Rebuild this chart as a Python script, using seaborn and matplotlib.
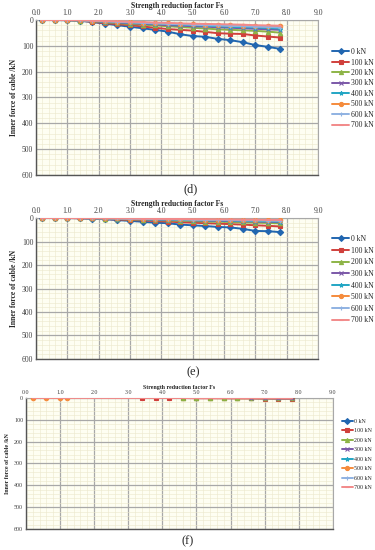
import numpy as np
import pandas as pd
import matplotlib
matplotlib.use("Agg")
import matplotlib.pyplot as plt
from matplotlib.lines import Line2D
from matplotlib.ticker import MultipleLocator
import seaborn as sns

sns.set_theme(style="white")
plt.rcParams['font.family'] = ['Liberation Serif', 'DejaVu Serif']

# -----------------------------
# Data
# -----------------------------
labels = ["0 kN", "100 kN", "200 kN", "300 kN", "400 kN", "500 kN", "600 kN", "700 kN"]
colors = ["#2166B0", "#D0403C", "#8DB446", "#7B58A8", "#22A6C4", "#F58B3C", "#8FB2E2", "#F28A8A"]
markers = ["D", "s", "^", "x", "*", "o", "+", "_"]

fs = [0.2, 0.6, 1.0, 1.4, 1.8, 2.2, 2.6, 3.0, 3.4, 3.8,
      4.2, 4.6, 5.0, 5.4, 5.8, 6.2, 6.6, 7.0, 7.4, 7.8]

# panel (d)
d_0kN = [0, 0, 1, 3, 8, 14, 20, 26, 32, 38, 45, 55, 62, 65, 73, 78, 86, 97, 104, 112]
d_100kN = [0, 0, 0, 2, 7, 12, 16, 20, 25, 30, 35, 38, 41, 46, 51, 53, 54, 60, 64, 68]
d_200kN = [0, 0, 0, 2, 5, 9, 12, 15, 18, 21, 24, 27, 30, 33, 36, 38, 40, 42, 45, 49]
d_300kN = [0, 0, 0, 1, 4, 7, 10, 12, 15, 17, 20, 22, 24, 26, 28, 30, 32, 34, 36, 38]
d_400kN = [0, 0, 0, 1, 3, 6, 8, 10, 12, 14, 16, 18, 20, 22, 24, 26, 28, 29, 31, 33]
d_500kN = [0, 0, 0, 1, 2, 4, 6, 8, 10, 12, 13, 15, 16, 18, 19, 21, 22, 23, 24, 25]
d_600kN = [0, 0, 0, 1, 3, 5, 7, 9, 11, 13, 15, 16, 18, 20, 21, 23, 24, 26, 27, 29]
d_700kN = [0, 0, 0, 0, 2, 4, 5, 7, 8, 10, 11, 13, 14, 15, 16, 17, 18, 20, 21, 22]

# panel (e)
e_0kN = [0, 0, 0, 1, 3, 5, 9, 12, 16, 20, 22, 28, 31, 34, 38, 40, 46, 55, 56, 60]
e_100kN = [0, 0, 0, 1, 2, 4, 6, 8, 10, 13, 15, 18, 20, 22, 24, 26, 28, 31, 33, 36]
e_200kN = [0, 0, 0, 0, 1, 3, 4, 6, 7, 9, 10, 12, 13, 15, 16, 17, 19, 20, 21, 23]
e_300kN = [0, 0, 0, 0, 1, 2, 3, 4, 6, 7, 8, 9, 10, 11, 12, 13, 14, 15, 16, 18]
e_400kN = [0, 0, 0, 0, 1, 2, 3, 4, 5, 6, 7, 8, 9, 10, 10, 11, 12, 13, 14, 15]
e_500kN = [0, 0, 0, 0, 0, 1, 2, 3, 3, 4, 5, 5, 6, 7, 7, 8, 8, 9, 9, 10]
e_600kN = [0, 0, 0, 0, 1, 1, 2, 3, 4, 5, 5, 6, 7, 8, 8, 9, 10, 10, 11, 12]
e_700kN = [0, 0, 0, 0, 0, 1, 1, 2, 3, 3, 4, 4, 5, 5, 6, 6, 7, 7, 8, 8]

# panel (f) - only some series have points
f_fs_100 = [3.4, 3.8, 4.2, 4.6, 5.0, 5.4, 5.8, 6.2, 6.6, 7.0, 7.4, 7.8]
f_100kN = [0, 0, 0, 0, 1, 1, 1, 2, 2, 3, 3, 4]
f_fs_200 = [4.6, 5.0, 5.4, 5.8, 6.2, 6.6, 7.0, 7.4, 7.8]
f_200kN = [0, 0, 0, 1, 1, 1, 2, 2, 2]
f_fs_300 = [6.6, 7.0, 7.4, 7.8]
f_300kN = [1, 1, 2, 2]
f_fs_500 = [0.2, 0.6, 1.0, 1.2]
f_500kN = [0, 0, 0, 0]
f_fs_700 = fs
f_700kN = [0, 0, 0, 0, 0, 0, 0, 0, 0, 0, 0, 0, 1, 1, 1, 1, 1, 1, 1, 2]

panel_d = [d_0kN, d_100kN, d_200kN, d_300kN, d_400kN, d_500kN, d_600kN, d_700kN]
panel_e = [e_0kN, e_100kN, e_200kN, e_300kN, e_400kN, e_500kN, e_600kN, e_700kN]
panel_f = {1: (f_fs_100, f_100kN), 2: (f_fs_200, f_200kN), 3: (f_fs_300, f_300kN),
           5: (f_fs_500, f_500kN), 7: (f_fs_700, f_700kN)}

# -----------------------------
# Figure
# -----------------------------
fig = plt.figure(figsize=(3.75, 5.5), dpi=100)

axes_rects = [
    [0.096, 0.682, 0.752, 0.2816],
    [0.096, 0.3473, 0.752, 0.2563],
    [0.069, 0.0382, 0.819, 0.2382],
]
# (x, y, labelspacing, handlelength)
legend_anchor = [(0.878, 0.918, 0.32, 2.2), (0.878, 0.578, 0.47, 2.2), (0.905, 0.243, 0.72, 1.9)]
fsz = [5.5, 5.5, 4.3]
tags = [("(d)", 0.507, 0.655), ("(e)", 0.515, 0.323), ("(f)", 0.5, 0.016)]


def style_axes(ax, size):
    ax.set_facecolor("#FEFEF2")
    ax.set_xlim(0, 9)
    ax.set_ylim(600, 0)
    ax.xaxis.set_major_locator(MultipleLocator(1))
    ax.xaxis.set_minor_locator(MultipleLocator(0.2))
    ax.yaxis.set_major_locator(MultipleLocator(100))
    ax.yaxis.set_minor_locator(MultipleLocator(20))
    ax.grid(which="minor", color="#ECE8CC", lw=0.4)
    ax.grid(which="major", color="#A8A8A8", lw=0.9)
    ax.set_axisbelow(True)
    ax.xaxis.tick_top()
    ax.xaxis.set_label_position("top")
    ax.set_xticks(np.arange(0, 9.1, 1))
    ax.set_xticklabels([f"{v:.1f}" for v in np.arange(0, 9.1, 1)])
    ax.tick_params(axis="both", which="both", length=0, labelsize=size, pad=2,
                   colors="#404040")
    for side in ["left", "bottom"]:
        ax.spines[side].set_color("#555555")
        ax.spines[side].set_linewidth(1.0)
    for side in ["top", "right"]:
        ax.spines[side].set_color("#A8A8A8")
        ax.spines[side].set_linewidth(0.8)


def draw_series(ax, x, y, i, ms):
    df = pd.DataFrame({"Fs": x, "Force": y})
    sns.lineplot(data=df, x="Fs", y="Force", ax=ax, color=colors[i], lw=1.4,
                 marker=markers[i], markersize=ms, markeredgecolor=colors[i],
                 markeredgewidth=0.8, sort=False, zorder=3 + i)


for p, rect in enumerate(axes_rects):
    ax = fig.add_axes(rect)
    style_axes(ax, fsz[p])
    if p < 2:
        data = panel_d if p == 0 else panel_e
        for i, vals in enumerate(data):
            draw_series(ax, fs, vals, i, 3.2)
    else:
        for i in [7, 1, 2, 3, 5]:
            x, y = panel_f[i]
            draw_series(ax, x, y, i, 3.2 if i != 7 else 0)
    ax.set_xlim(0, 9)
    ax.set_ylim(600, 0)
    ax.set_xlabel("Strength reduction factor Fs", fontsize=fsz[p], fontweight="bold", labelpad=1)
    ax.set_ylabel("Inner force of cable /kN", fontsize=fsz[p], fontweight="bold", labelpad=3)

    handles = [Line2D([0], [0], color=colors[i], lw=1.4, marker=markers[i],
                      markersize=3.0, markeredgewidth=0.8) for i in range(8)]
    lx, ly, sp, hl = legend_anchor[p]
    fig.legend(handles, labels, loc="upper left", bbox_to_anchor=(lx, ly),
               frameon=False, fontsize=fsz[p], handlelength=hl, handletextpad=0.2,
               labelspacing=sp, borderaxespad=0)

    t, tx, ty = tags[p]
    fig.text(tx, ty, t, fontsize=9, ha="center", va="center")

fig.savefig("out.png", dpi=100)
